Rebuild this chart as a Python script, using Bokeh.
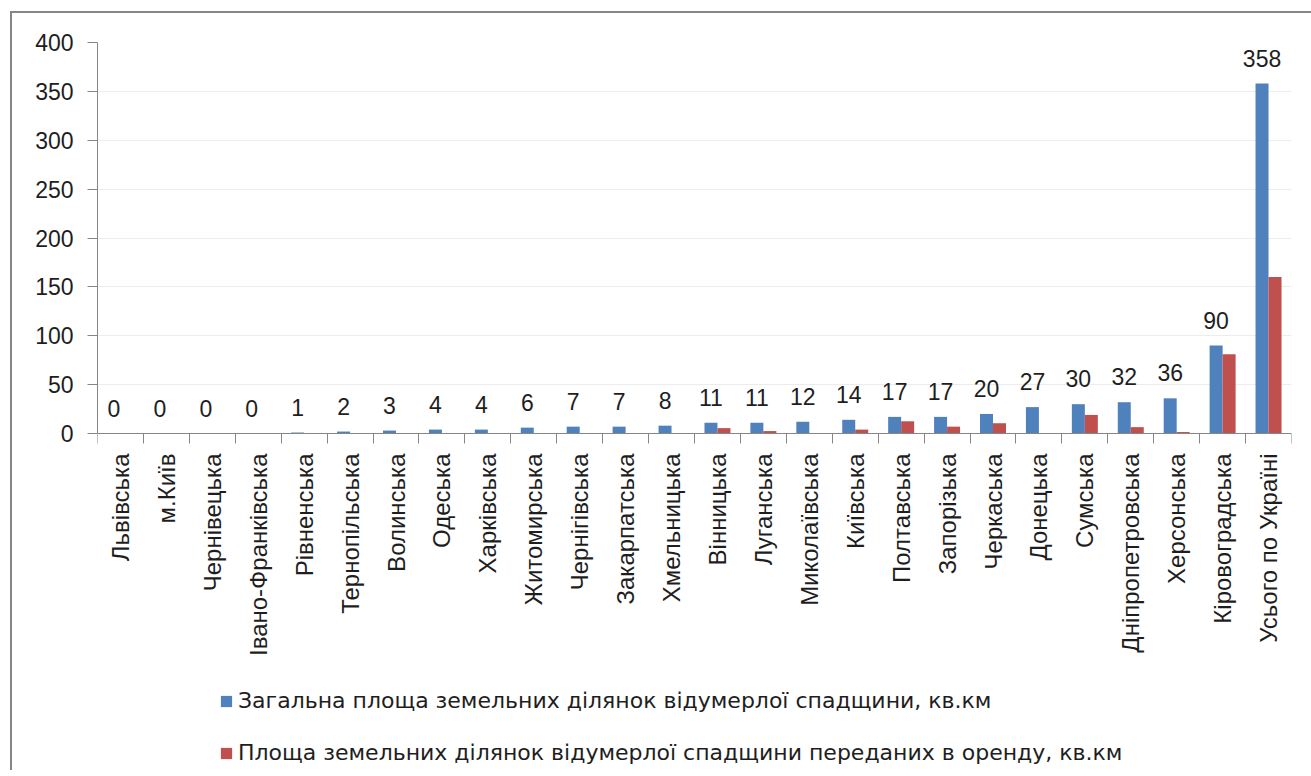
import math

from bokeh.plotting import figure
from bokeh.core.properties import value
from bokeh.models import ColumnDataSource, FixedTicker, LabelSet, Legend, LegendItem, Range1d
from bokeh.transform import dodge
from bokeh.embed import file_html
from bokeh.resources import INLINE

# Regions of Ukraine, sorted by total area of escheated land plots
regions = [
    "Львівська", "м.Київ", "Чернівецька", "Івано-Франківська", "Рівненська",
    "Тернопільська", "Волинська", "Одеська", "Харківська", "Житомирська",
    "Чернігівська", "Закарпатська", "Хмельницька", "Вінницька", "Луганська",
    "Миколаївська", "Київська", "Полтавська", "Запорізька", "Черкаська",
    "Донецька", "Сумська", "Дніпропетровська", "Херсонська", "Кіровоградська",
    "Усього по Україні",
]

# Total area of escheated land plots, sq. km
total_area = [0, 0, 0, 0, 1, 2, 3, 4, 4, 6, 7, 7, 8, 11, 11, 12, 14, 17, 17, 20,
              27, 30, 32, 36, 90, 358]

# Area of those plots leased out, sq. km
leased_area = [0, 0, 0, 0, 0, 0, 0, 0, 0, 0, 0, 0, 0, 5.5, 2.5, 0, 4, 12.5, 7, 10.5,
               0, 19, 6.5, 1.5, 81, 160]

y_ticks = [0, 50, 100, 150, 200, 250, 300, 350, 400]

series_names = [
    "Загальна площа земельних ділянок відумерлої спадщини, кв.км",
    "Площа земельних ділянок відумерлої спадщини переданих в оренду, кв.км",
]

BLUE = "#4F81BD"
RED = "#C0504D"
AXIS = "#868686"
TEXT = "#1e1e1e"
FONT = "Liberation Sans"
LEGEND_FONT = "DejaVu Sans"

# Layout: the value area is 391 px tall; the frame continues 337 px further
# down so that the rotated region names and the legend live inside it.
VALUE_PX = 391
BELOW_PX = 337
y_top = max(y_ticks)
y_bottom = -y_top * BELOW_PX / VALUE_PX

n = len(regions)
xs = list(range(n))
src = ColumnDataSource(dict(
    x=xs,
    total=total_area,
    leased=leased_area,
    label=[str(v) for v in total_area],
))

p = figure(
    frame_width=1194, frame_height=VALUE_PX + BELOW_PX,
    x_range=Range1d(-0.5, n - 0.5), y_range=Range1d(y_bottom, y_top),
    output_backend="svg", toolbar_location=None,
    min_border_left=85, min_border_right=20, min_border_top=29, min_border_bottom=0,
)
p.margin = (11, 0, 0, 10)
p.styles = {"border-left": f"2px solid {AXIS}", "border-top": f"2px solid {AXIS}"}
p.outline_line_color = None
p.background_fill_color = "white"
p.border_fill_color = "white"

bw = 0.283
off = bw / 2
r_total = p.vbar(x=dodge("x", -off), top="total", width=bw, source=src,
                 fill_color=BLUE, line_color=None)
r_leased = p.vbar(x=dodge("x", off), top="leased", width=bw, source=src,
                  fill_color=RED, line_color=None)

labels = LabelSet(x=dodge("x", -off), y="total", text="label", source=src,
                  y_offset=17, text_align="center", text_baseline="alphabetic",
                  text_font=value(FONT), text_font_size="23px", text_color=TEXT)
p.add_layout(labels)

# y axis
p.yaxis.ticker = FixedTicker(ticks=y_ticks)
p.yaxis.bounds = (0, y_top)
p.yaxis.axis_line_color = AXIS
p.yaxis.major_tick_line_color = AXIS
p.yaxis.major_tick_in = 0
p.yaxis.major_tick_out = 10
p.yaxis.minor_tick_line_color = None
p.yaxis.major_label_text_font = FONT
p.yaxis.major_label_text_font_size = "23px"
p.yaxis.major_label_text_color = TEXT
p.yaxis.major_label_standoff = 14

p.ygrid.ticker = FixedTicker(ticks=y_ticks)
p.ygrid.grid_line_color = "#ececec"
p.xgrid.grid_line_color = None

# x axis at zero: labels at category centres, tick marks at category boundaries
p.xaxis.fixed_location = 0
p.xaxis.ticker = FixedTicker(ticks=xs, minor_ticks=[i - 0.5 for i in range(n + 1)])
p.xaxis.major_label_overrides = {i: name for i, name in enumerate(regions)}
p.xaxis.major_label_orientation = math.pi / 2
p.xaxis.axis_line_color = AXIS
p.xaxis.major_tick_line_color = None
p.xaxis.major_tick_in = 0
p.xaxis.major_tick_out = 0
p.xaxis.minor_tick_line_color = AXIS
p.xaxis.minor_tick_in = 0
p.xaxis.minor_tick_out = 10
p.xaxis.major_label_text_font = FONT
p.xaxis.major_label_text_font_size = "24px"
p.xaxis.major_label_text_color = TEXT
p.xaxis.major_label_standoff = 10

# legend under the region names
legend = Legend(
    items=[LegendItem(label=series_names[0], renderers=[r_total]),
           LegendItem(label=series_names[1], renderers=[r_leased])],
    orientation="vertical", location=(122, 5),
    border_line_color=None, background_fill_alpha=0,
    glyph_width=14, glyph_height=14, label_standoff=5,
    label_text_font=LEGEND_FONT, label_text_font_size="22px", label_text_color=TEXT,
    label_height=24, spacing=27, padding=0, margin=0,
)
p.add_layout(legend)

open("out.html", "w").write(file_html(p, INLINE))
